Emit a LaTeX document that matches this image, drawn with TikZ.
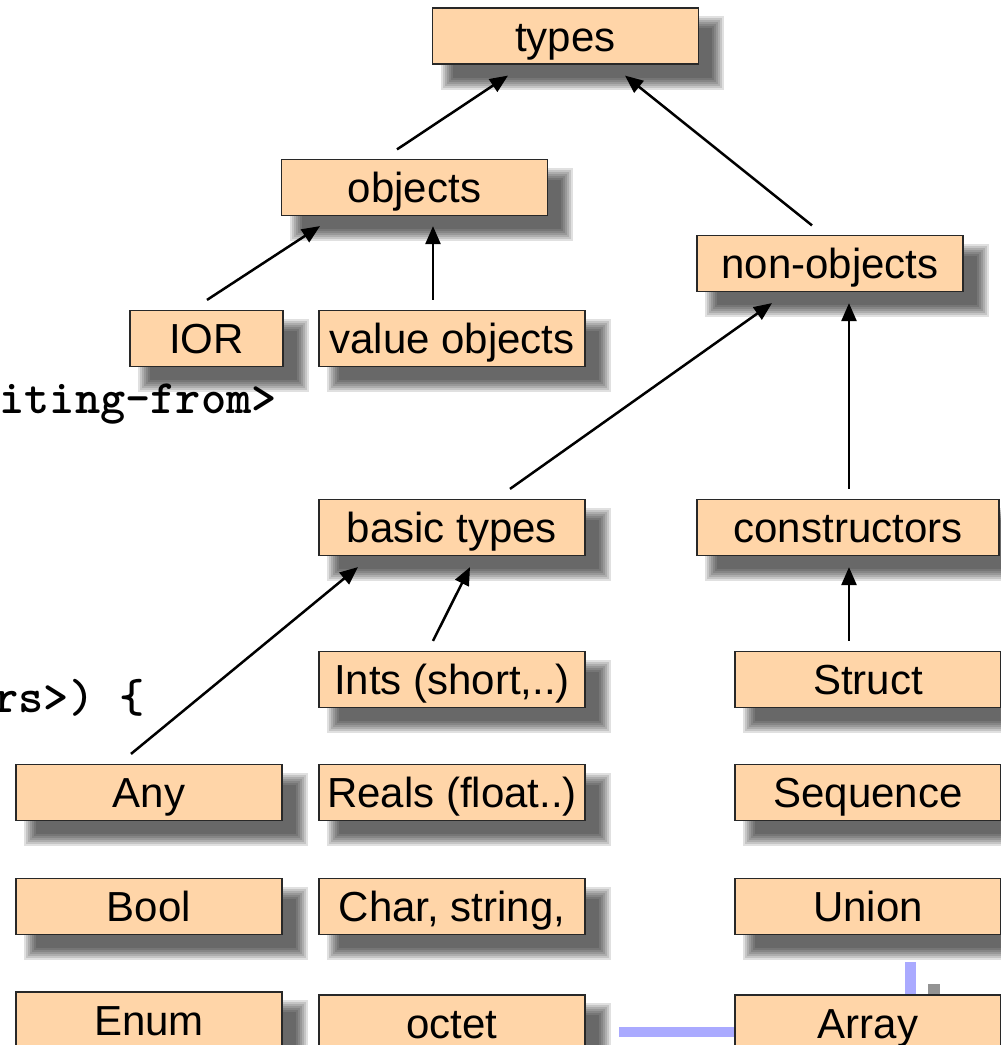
\documentclass[tikz,border=0pt]{standalone}
\usepackage{fontspec}
\setmainfont{Liberation Sans}
\usetikzlibrary{arrows.meta,backgrounds}
\definecolor{boxfill}{RGB}{255,213,168}
\definecolor{boxline}{RGB}{40,40,40}
\definecolor{linkblue}{RGB}{170,170,255}
\tikzset{
  typebox/.style={draw=boxline, line width=1.2pt, fill=boxfill, inner sep=0pt,
    minimum width=266pt, minimum height=56pt, text height=33pt, text depth=3pt,
    font=\fontsize{42}{46}\selectfont},
  link/.style={line width=2.5pt, -{Triangle[length=18pt,width=15pt]}},
  codetext/.style={font=\ttfamily\bfseries\fontsize{48}{52}\selectfont, inner sep=0pt, anchor=base east},
}
\begin{document}
\begin{tikzpicture}[x=1pt,y=-1pt]
\useasboundingbox (0,0) rectangle (1001,1045);
% blue decorations
\fill[linkblue] (619,1027) rectangle (740,1037);
\fill[linkblue] (905,962) rectangle (916,1000);
\fill[gray!85] (928,984) rectangle (940,1000);
% code fragments
\node[codetext] (code1) at (277,413) {iting-from>};
\node[codetext] (code2) at (145,712) {rs>) \{};
% nodes
\node[typebox] (types) at (565.5,36) {types};
\node[typebox] (objects) at (414.5,187.5) {objects};
\node[typebox] (nonobj) at (830,263.5) {non-objects};
\node[typebox, minimum width=153pt] (ior) at (206.5,338.5) {IOR};
\node[typebox] (valobj) at (452,338.5) {value objects};
\node[typebox] (basic) at (452,527.5) {basic types};
\node[typebox, minimum width=302pt] (constr) at (848,527.5) {constructors};
\node[typebox] (ints) at (452,679.5) {Ints (short,..)};
\node[typebox] (struct) at (868,679.5) {Struct};
\node[typebox] (any) at (149,792.5) {Any};
\node[typebox] (reals) at (452,792.5) {Reals (float..)};
\node[typebox] (seq) at (868,792.5) {Sequence};
\node[typebox] (bool) at (149,906.5) {Bool};
\node[typebox] (chars) at (452,906.5) {Char, string,};
\node[typebox] (union) at (868,906.5) {Union};
\node[typebox] (enum) at (149,1020) {Enum};
\node[typebox] (octet) at (452,1023) {octet};
\node[typebox] (array) at (868,1023) {Array};
% shadows
\begin{scope}[on background layer]
\foreach \n in {types,objects,nonobj,ior,valobj,basic,constr,ints,struct,any,reals,seq,bool,chars,union,enum,octet,array}{
  \foreach \e in {8,6,4,2,0,-2,-4}{
    \fill[black, opacity=0.12] ([shift={(17-\e,17-\e)}]\n.north west) rectangle ([shift={(17+\e,17+\e)}]\n.south east);
  }
}
\end{scope}
% connectors
\draw[link] ([shift={(-17.5,-9.5)}]objects.north) -- ([shift={(-57.5,11)}]types.south);
\draw[link] ([shift={(-18,-9.5)}]nonobj.north) -- ([shift={(59.5,11)}]types.south);
\draw[link] ([shift={(0.5,-10)}]ior.north) -- ([shift={(-94.5,10)}]objects.south);
\draw[link] ([shift={(-19,-10)}]valobj.north) -- ([shift={(18.5,10)}]objects.south);
\draw[link] ([shift={(58,-10)}]basic.north) -- ([shift={(-58,11)}]nonobj.south);
\draw[link] ([shift={(1,-10)}]constr.north) -- ([shift={(19,11)}]nonobj.south);
\draw[link] ([shift={(-19,-10)}]ints.north) -- ([shift={(18,11)}]basic.south);
\draw[link] ([shift={(-18,-10)}]any.north) -- ([shift={(-94,11)}]basic.south);
\draw[link] ([shift={(-19,-10)}]struct.north) -- ([shift={(1,11)}]constr.south);
\end{tikzpicture}
\end{document}
